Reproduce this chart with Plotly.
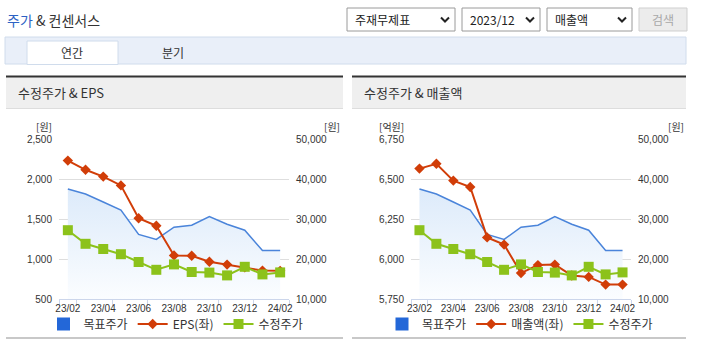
import plotly.graph_objects as go

W, H = 703, 357

months = ["23/02", "23/03", "23/04", "23/05", "23/06", "23/07", "23/08",
          "23/09", "23/10", "23/11", "23/12", "24/01", "24/02"]
target_price = [37500, 36250, 34250, 32250, 26150, 24900, 27950,
                28450, 30600, 28700, 27200, 22100, 22100]
adj_price = [27200, 23800, 22500, 21200, 19250, 17300, 18650,
             16750, 16600, 15900, 18050, 16150, 16650]
eps = [2230, 2115, 2030, 1920, 1510, 1415, 1045, 1040, 965, 930, 895, 855, 852]
revenue = [6565, 6595, 6490, 6450, 6135, 6090, 5912, 5962, 5965, 5897, 5888, 5840, 5840]

left_ticks = [500, 1000, 1500, 2000, 2500]
rev_ticks = [5750, 6000, 6250, 6500, 6750]
won_ticks = [10000, 20000, 30000, 40000, 50000]

BLUE = "#4a84da"
BLUE_LEG = "#2367d8"
RED = "#d13d08"
GREEN = "#8cc21b"
TXT = "#333333"
NUMFONT = "Liberation Sans, Arial, sans-serif"
KRFONT = "Noto Sans CJK KR, sans-serif"


def X(px):
    return px / W


def Y(py):
    return 1 - py / H


xs = list(range(len(months)))

fig = go.Figure()

panels = [
    dict(xa="x", ya_base="y", ya_left="y2", ya_top="y3",
         second=eps, second_name="EPS(좌)", legend="legend"),
    dict(xa="x2", ya_base="y4", ya_left="y5", ya_top="y6",
         second=revenue, second_name="매출액(좌)", legend="legend2"),
]

for p in panels:
    fig.add_trace(go.Scatter(
        x=xs, y=target_price, xaxis=p["xa"], yaxis=p["ya_base"],
        mode="lines", line=dict(color=BLUE, width=1.5),
        fill="tozeroy",
        fillgradient=dict(type="vertical",
                          colorscale=[[0, "rgba(251,253,255,1)"], [1, "rgba(220,234,250,1)"]],
                          start=10000, stop=38000),
        showlegend=False, hoverinfo="skip"))
    fig.add_trace(go.Scatter(
        x=[None], y=[None], xaxis=p["xa"], yaxis=p["ya_base"],
        mode="markers", marker=dict(symbol="square", size=13, color=BLUE_LEG),
        name="목표주가", legend=p["legend"]))
    fig.add_trace(go.Scatter(
        x=xs, y=p["second"], xaxis=p["xa"], yaxis=p["ya_left"],
        mode="lines+markers", line=dict(color=RED, width=2),
        marker=dict(symbol="diamond", size=8, color=RED),
        name=p["second_name"], legend=p["legend"]))
    fig.add_trace(go.Scatter(
        x=xs, y=adj_price, xaxis=p["xa"], yaxis=p["ya_top"],
        mode="lines+markers", line=dict(color=GREEN, width=2),
        marker=dict(symbol="square", size=10, color=GREEN),
        name="수정주가", legend=p["legend"]))

ydom = [Y(299), Y(139)]
minor_vals = [-0.5] + [i + 0.5 for i in xs[::2]]

axis_common = dict(tickfont=dict(family=NUMFONT, size=10, color=TXT),
                   automargin=False, fixedrange=True)


def xaxis_cfg(x0, x1, anchor):
    return dict(domain=[X(x0), X(x1)], anchor=anchor, range=[-0.5, len(months) - 0.5],
                tickmode="array", tickvals=xs[::2], ticktext=months[::2],
                ticks="", showgrid=False, zeroline=False,
                showline=True, linecolor="#ccd6eb", linewidth=1,
                minor=dict(tickmode="array", tickvals=minor_vals, ticks="outside",
                           ticklen=6, tickcolor="#ccd6eb", showgrid=False),
                **axis_common)


def won_axis(anchor, overlay=None, visible=True):
    d = dict(domain=ydom, anchor=anchor, range=[10000, 50000], side="right",
             tickmode="array", tickvals=won_ticks if visible else [],
             tickformat=",", showgrid=False, zeroline=False, showline=False,
             ticklabelstandoff=6, **axis_common)
    if overlay:
        d["overlaying"] = overlay
    if not visible:
        d["showticklabels"] = False
    return d


def left_axis(anchor, overlay, ticks):
    return dict(domain=ydom, anchor=anchor, range=[ticks[0], ticks[-1]], side="left",
                tickmode="array", tickvals=ticks, tickformat=",",
                showgrid=True, gridcolor="#dedede", gridwidth=1,
                zeroline=False, showline=False, overlaying=overlay,
                ticklabelstandoff=6, **axis_common)


fig.update_layout(
    xaxis=xaxis_cfg(59, 289, "y"),
    yaxis=won_axis("x"),
    yaxis2=left_axis("x", "y", left_ticks),
    yaxis3=won_axis("x", overlay="y", visible=False),
    xaxis2=xaxis_cfg(411, 631, "y4"),
    yaxis4=won_axis("x2"),
    yaxis5=left_axis("x2", "y4", rev_ticks),
    yaxis6=won_axis("x2", overlay="y4", visible=False),
)

legend_common = dict(orientation="h", xanchor="center", yanchor="middle",
                     font=dict(family=KRFONT, size=12, color=TXT),
                     bgcolor="rgba(0,0,0,0)", itemwidth=30, tracegroupgap=0,
                     itemclick=False, itemdoubleclick=False)
fig.update_layout(
    legend=dict(x=X(176), y=Y(324), **legend_common),
    legend2=dict(x=X(520), y=Y(324), **legend_common),
)

shapes = []
ann = []


def note(x, y, text, size=12, color=TXT, xanchor="left", family=KRFONT):
    ann.append(dict(x=X(x), y=Y(y), xref="paper", yref="paper", xanchor=xanchor,
                    yanchor="middle", text=text, showarrow=False,
                    font=dict(family=family, size=size, color=color)))


def rect(x0, x1, y0, y1, fill, lc=None, lw=1):
    shapes.append(dict(type="rect", xref="paper", yref="paper", x0=X(x0), x1=X(x1),
                       y0=Y(y1), y1=Y(y0), fillcolor=fill,
                       line=dict(color=lc or fill, width=lw if lc else 0)))


def hline(x0, x1, y, color, w):
    shapes.append(dict(type="line", xref="paper", yref="paper", x0=X(x0), x1=X(x1),
                       y0=Y(y), y1=Y(y), line=dict(color=color, width=w)))


# top title
note(5, 20, "<span style='color:#2d62c4'>주가</span> & 컨센서스", size=14)

# dropdowns
dds = [(347, 455, "주재무제표"), (462, 540, "2023/12"), (547, 632, "매출액")]
for x0, x1, t in dds:
    rect(x0, x1, 8, 31, "white", "#9a9a9a")
    note(x0 + 6, 19.5, t, size=12, color="#222")
    cx = x1 - 10
    shapes.append(dict(type="path", xref="paper", yref="paper",
                       path=f"M {X(cx-4)} {Y(17.5)} L {X(cx)} {Y(21.5)} L {X(cx+4)} {Y(17.5)}",
                       line=dict(color="#222", width=2)))
rect(639, 687, 8, 31, "#ececec", "#cfcfcf")
note(663, 19.5, "검색", size=12, color="#a8a8a8", xanchor="center")

# tab bar
rect(5, 686, 37, 64, "#e9eff9", "#d0dcec")
rect(27, 118, 41, 64.5, "white", "#d0dcec")
note(72, 52, "연간", xanchor="center")
note(173, 52, "분기", xanchor="center")

# panel headers
for x0, x1, t in [(6, 343, "수정주가 & EPS"), (352, 686, "수정주가 & 매출액")]:
    rect(x0, x1, 77, 108, "#efefef")
    hline(x0, x1, 76.5, "#333333", 2)
    hline(x0, x1, 108.5, "#dddddd", 1)
    hline(x0, x1, 338, "#c8c8c8", 2)
    note(x0 + 10, 93, t, size=13)

# unit labels
for x, t in [(44, "[원]"), (332, "[원]"), (391, "[억원]"), (676, "[원]")]:
    note(x, 126, t, size=10, xanchor="center")

fig.update_layout(
    width=W, height=H, margin=dict(l=0, r=0, t=0, b=0, pad=0, autoexpand=False),
    paper_bgcolor="white", plot_bgcolor="rgba(0,0,0,0)",
    font=dict(family=KRFONT, color=TXT),
    shapes=shapes, annotations=ann, hovermode=False,
)

fig.write_html("out.html", config={"displayModeBar": False},
               post_script="document.body.style.margin='0px';document.body.style.padding='0px';")
